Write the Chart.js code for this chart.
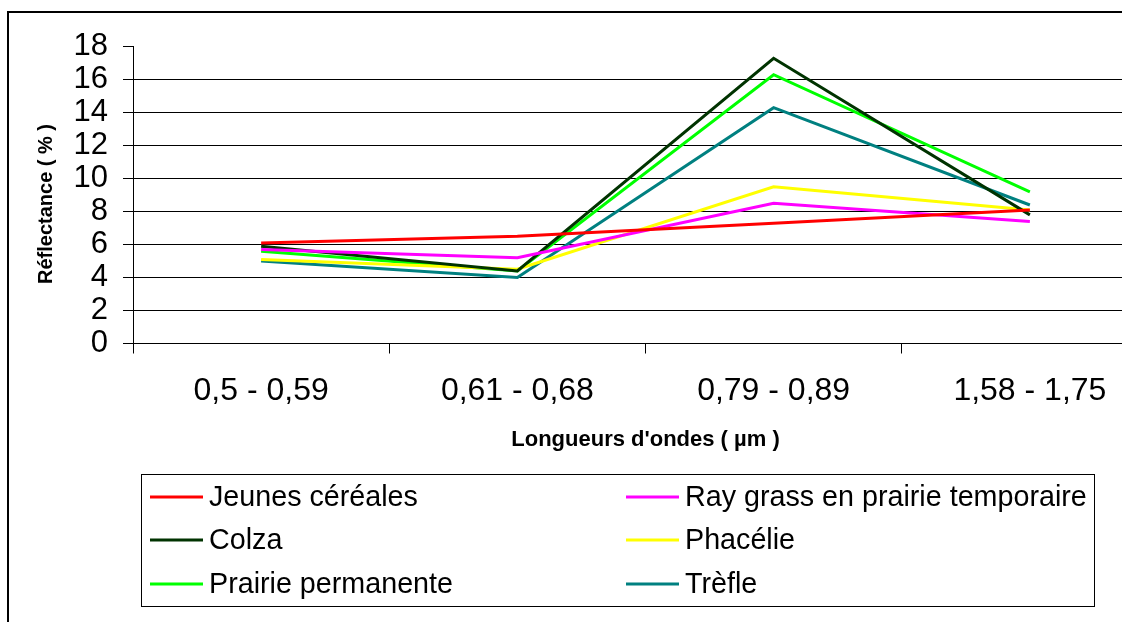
<!DOCTYPE html>
<html>
<head>
<meta charset="utf-8">
<script src="https://cdn.jsdelivr.net/npm/chart.js@4.4.1/dist/chart.umd.min.js"></script>
<style>
  html, body { margin: 0; padding: 0; background: #fff; overflow: hidden; }
  #wrap { width: 1122px; height: 622px; overflow: hidden; position: relative; }
  canvas { position: absolute; left: 0; top: 0; }
</style>
</head>
<body>
<div id="wrap"><canvas id="reflectance-chart" width="1180" height="622"></canvas></div>
<script>
// Wavelength bands (x axis)
const bands = ['0,5 - 0,59', '0,61 - 0,68', '0,79 - 0,89', '1,58 - 1,75'];

// Reflectance (%) per crop
const jeunesCereales = [6.1, 6.5, 7.3, 8.1];
const rayGrass = [5.7, 5.2, 8.5, 7.4];
const colza = [5.9, 4.4, 17.3, 7.8];
const phacelie = [5.1, 4.5, 9.5, 8.1];
const prairiePermanente = [5.6, 4.4, 16.3, 9.2];
const trefle = [5.0, 4.0, 14.3, 8.4];

const seriesNames = ['Jeunes céréales', 'Ray grass en prairie temporaire', 'Colza', 'Phacélie', 'Prairie permanente', 'Trèfle'];
const seriesColors = ['#ff0000', '#ff00ff', '#003300', '#ffff00', '#00ff00', '#008080'];
const seriesValues = [jeunesCereales, rayGrass, colza, phacelie, prairiePermanente, trefle];

const yTicksMax = 18;
const yTicksStep = 2;

const FONT = "'Liberation Sans', Arial, sans-serif";
Chart.defaults.color = '#000';
Chart.defaults.font.family = FONT;

// Outer frame, y title and legend box drawn around the chart
const framePlugin = {
    id: 'frame',
    afterDraw(chart) {
        const ctx = chart.ctx;
        ctx.save();
        ctx.strokeStyle = '#000';
        ctx.lineWidth = 2;
        ctx.strokeRect(8, 12, chart.width + 20, chart.height + 20);

        // y axis title
        ctx.save();
        ctx.translate(46, 204);
        ctx.rotate(-Math.PI / 2);
        ctx.font = 'bold 20px ' + FONT;
        ctx.textAlign = 'center';
        ctx.textBaseline = 'middle';
        ctx.fillStyle = '#000';
        ctx.fillText('Réflectance ( % )', 0, 0);
        ctx.restore();

        // legend box
        ctx.lineWidth = 1;
        ctx.strokeStyle = '#000';
        ctx.strokeRect(141.5, 474.5, 953, 132);
        ctx.font = '28.7px ' + FONT;
        ctx.textBaseline = 'middle';
        ctx.fillStyle = '#000';
        const colX = [150, 626];
        const rowY = [497, 540, 584];
        chart.data.datasets.forEach((ds, i) => {
            const x = colX[i % 2];
            const y = rowY[Math.floor(i / 2)];
            ctx.strokeStyle = ds.borderColor;
            ctx.lineWidth = 3;
            ctx.beginPath();
            ctx.moveTo(x, y);
            ctx.lineTo(x + 53, y);
            ctx.stroke();
            ctx.fillText(ds.label, x + 59, y + 1);
        });
        ctx.restore();
    }
};

const chartContext = document.getElementById('reflectance-chart').getContext('2d');

window.reflectanceChart = new Chart(chartContext, {
    type: 'line',
    data: {
        labels: bands,
        datasets: seriesNames.map((name, i) => ({
            label: name,
            data: seriesValues[i],
            borderColor: seriesColors[i],
            backgroundColor: seriesColors[i],
            borderWidth: 3,
            pointRadius: 0,
            tension: 0,
            fill: false
        }))
    },
    options: {
        responsive: false,
        animation: false,
        layout: {
            padding: { left: 0, top: 46.7, right: 22, bottom: 158.5 }
        },
        plugins: {
            legend: { display: false },
            tooltip: { enabled: false }
        },
        scales: {
            x: {
                offset: true,
                afterFit: scale => { scale.height = 120; },
                grid: {
                    offset: true,
                    drawOnChartArea: false,
                    tickLength: 10,
                    color: '#000'
                },
                border: { display: true, color: '#000' },
                ticks: {
                    font: { size: 32 },
                    padding: 18,
                    maxRotation: 0,
                    autoSkip: false
                },
                title: {
                    display: true,
                    text: "Longueurs d'ondes ( µm )",
                    font: { size: 22, weight: 'bold' },
                    padding: { top: 0, bottom: 10 }
                }
            },
            y: {
                min: 0,
                max: yTicksMax,
                afterFit: scale => { scale.width = 133; },
                grid: {
                    color: c => (c.tick && c.tick.value === yTicksMax) ? 'rgba(0,0,0,0)' : '#000',
                    tickColor: '#000',
                    tickLength: 10
                },
                border: { display: true, color: '#000' },
                ticks: {
                    stepSize: yTicksStep,
                    font: { size: 31 },
                    padding: 15,
                    autoSkip: false
                },
                title: { display: false }
            }
        }
    },
    plugins: [framePlugin]
});
</script>
</body>
</html>
